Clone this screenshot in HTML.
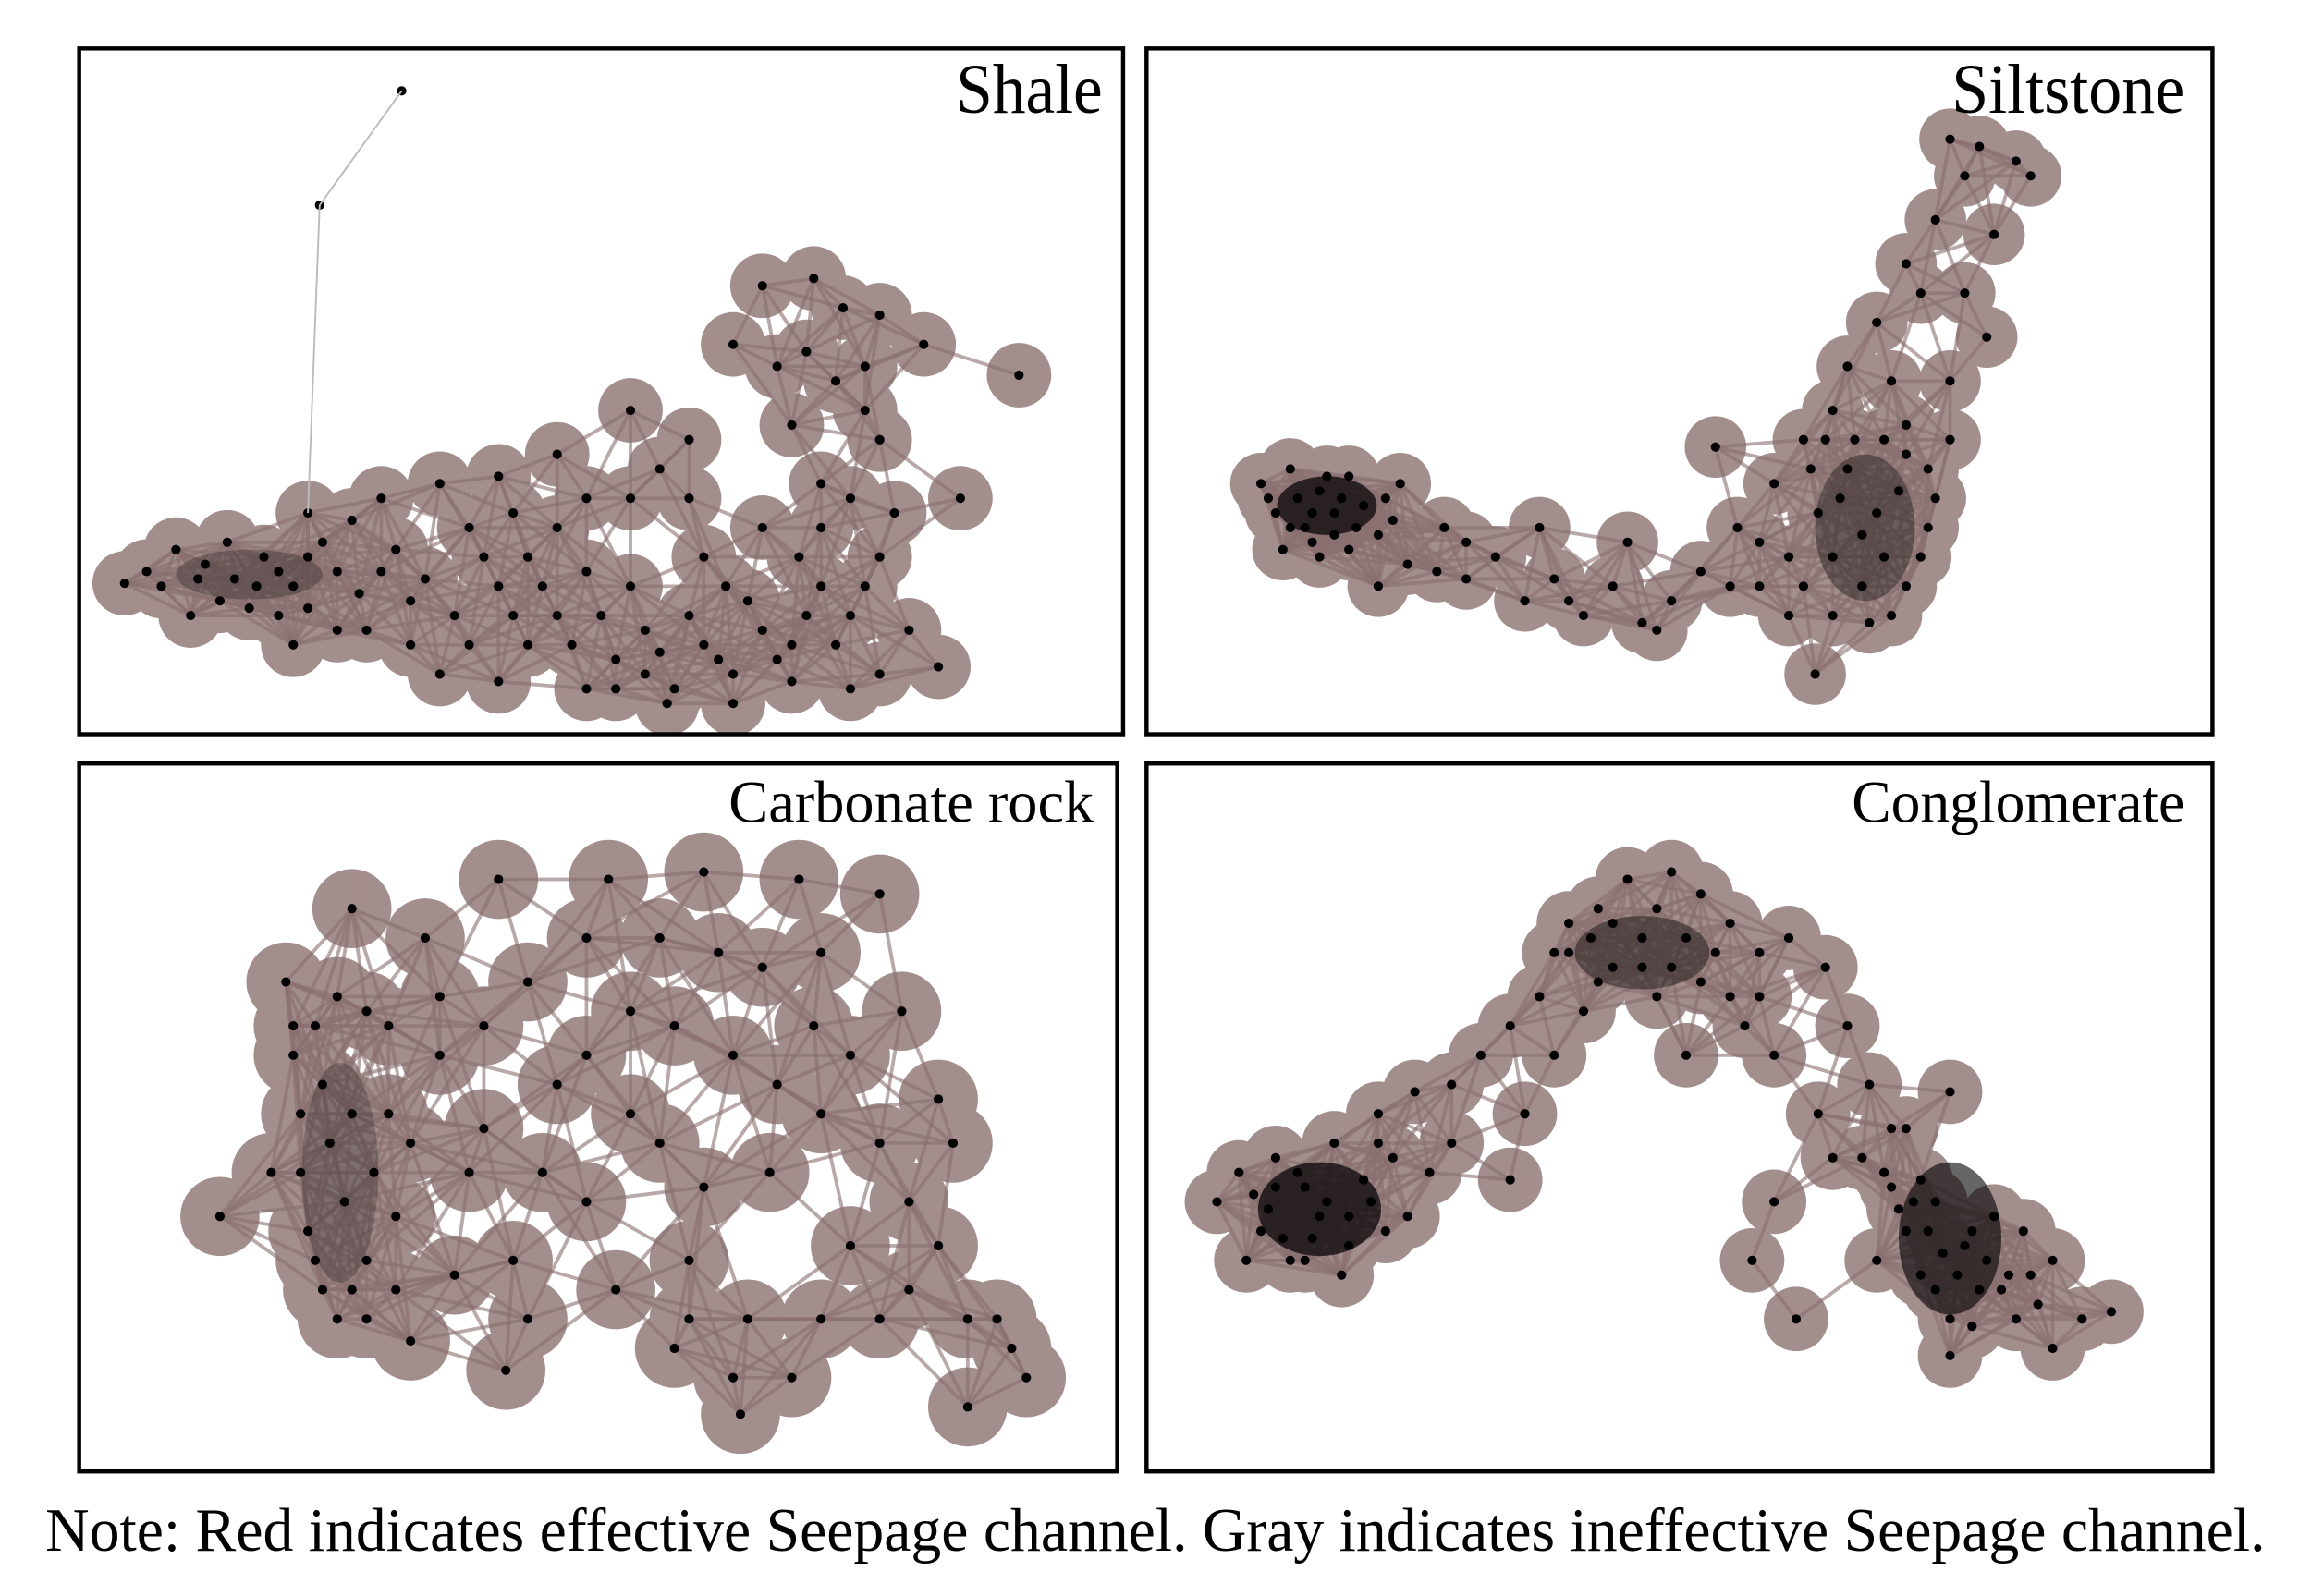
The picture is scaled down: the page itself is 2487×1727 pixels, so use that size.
<!DOCTYPE html>
<html><head><meta charset="utf-8"><style>
html,body{margin:0;padding:0;background:#fff;}
svg{display:block;}
text{font-family:"Liberation Serif",serif;fill:#000;}
</style></head><body>
<svg id="fig" width="2487" height="1727" viewBox="0 0 1568 1089" preserveAspectRatio="none" xmlns="http://www.w3.org/2000/svg">
<g id="layers"></g>
<rect x="54" y="33" width="712" height="468" fill="none" stroke="#000" stroke-width="2.8"/>
<rect x="782" y="33" width="727" height="468" fill="none" stroke="#000" stroke-width="2.8"/>
<rect x="54" y="521" width="708" height="483" fill="none" stroke="#000" stroke-width="2.8"/>
<rect x="782" y="521" width="727" height="483" fill="none" stroke="#000" stroke-width="2.8"/>
<text x="652" y="77" font-size="48" textLength="100" lengthAdjust="spacingAndGlyphs">Shale</text>
<text x="1331" y="77" font-size="48" textLength="159" lengthAdjust="spacingAndGlyphs">Siltstone</text>
<text x="497" y="561" font-size="41" textLength="249" lengthAdjust="spacingAndGlyphs">Carbonate rock</text>
<text x="1263" y="561" font-size="41" textLength="227" lengthAdjust="spacingAndGlyphs">Conglomerate</text>
<text x="31" y="1058" font-size="42" textLength="1514" lengthAdjust="spacingAndGlyphs">Note: Red indicates effective Seepage channel. Gray indicates ineffective Seepage channel.</text>
</svg>
<script>
const shaleNodes=[[274,62],[218,140],[210,350],[85,398],[100,390],[120,375],[140,385],[160,395],[180,380],[200,400],[220,370],[240,355],[260,390],[280,410],[300,330],[320,360],[340,400],[360,440],[380,420],[400,390],[420,450],[440,430],[460,470],[480,440],[500,460],[520,430],[540,440],[560,400],[580,420],[600,380],[620,430],[640,455],[610,350],[600,300],[590,250],[575,210],[555,190],[520,195],[500,235],[540,290],[560,330],[520,360],[495,400],[430,280],[450,320],[470,300],[695,256],[655,340],[630,235],[600,215],[130,420],[170,415],[250,430],[300,460],[340,465],[400,470],[455,480],[540,465],[200,440],[350,350],[260,340],[600,460],[580,470],[480,380],[380,360],[150,410],
[110,400],[135,395],[155,370],[175,400],[190,390],[210,415],[230,390],[245,405],[270,375],[290,395],[310,420],[330,380],[350,420],[370,400],[390,440],[410,420],[430,400],[450,445],[470,420],[490,450],[510,410],[530,450],[550,420],[570,440],[590,400],[560,360],[545,380],[580,340],[590,280],[570,260],[550,240],[530,250],[210,380],[190,420],[230,430],[320,440],[280,440],[440,460],[500,480],[420,470],
[340,325],[380,310],[430,340],[470,340],[400,340],[360,380]];
const siltNodes=[[860,330],[870,350],[880,320],[890,360],[900,335],[910,350],[920,325],[930,345],[940,365],[955,330],[875,375],[900,380],[960,385],[985,360],[1000,395],[1020,380],[1040,410],[1060,395],[1080,420],[1100,400],[1120,425],[1140,410],[1160,390],[1170,305],[1185,360],[1200,400],[1220,420],[1238,460],[1210,330],[1230,300],[1250,280],[1260,320],[1280,350],[1300,310],[1320,340],[1330,300],[1250,380],[1270,400],[1290,420],[1310,380],[1240,350],[1220,380],[1260,250],[1280,220],[1300,180],[1320,150],[1340,120],[1330,95],[1350,100],[1375,110],[1385,120],[1360,160],[1310,200],[1290,260],[1340,200],[1355,230],[1330,260],[1300,290],[1050,360],[940,400],[1110,370],[1130,430],
[865,340],[885,340],[895,350],[905,325],[915,340],[925,360],[895,370],[910,365],[880,360],[945,340],[950,355],[920,375],[1235,320],[1255,340],[1270,365],[1285,380],[1295,335],[1315,360],[1230,400],[1250,420],[1275,425],[1300,400],[1265,300],[1285,300],[1245,300],[1315,320],[1200,370],[1180,400],[1000,370],[1070,410],[980,390]];
const carbNodes=[[150,830],[185,800],[195,670],[200,720],[205,760],[210,840],[220,880],[230,900],[250,690],[265,760],[280,915],[270,830],[290,640],[300,720],[320,800],[340,600],[345,935],[360,670],[380,740],[400,820],[415,600],[430,690],[450,780],[470,860],[480,595],[490,650],[500,720],[505,965],[510,900],[525,800],[545,600],[555,700],[560,760],[580,850],[600,900],[620,820],[640,750],[650,780],[660,960],[680,900],[700,940],[615,690],[540,940],[460,920],[240,620],[310,870],[350,860],[420,880],[560,650],[600,610],[640,850],[330,770],[430,760],[480,810],[250,860],[220,740],[280,780],
[200,700],[215,700],[225,780],[235,820],[205,800],[215,860],[240,880],[255,800],[240,760],[230,680],[265,700],[250,900],[270,880],[300,680],[330,700],[400,640],[450,640],[520,660],[580,720],[600,780],[620,880],[660,900],[690,920],[470,900],[500,940],[370,800],[400,720],[460,700],[530,740],[360,900],[560,900]];
const congNodes=[[830,820],[845,800],[860,840],[870,790],[880,860],[890,810],[900,830],[910,780],[920,850],[930,805],[950,790],[960,830],[975,800],[990,780],[850,860],[915,870],[940,760],[965,745],[990,740],[1010,720],[1030,700],[1050,680],[1060,650],[1070,630],[1090,620],[1110,600],[1140,595],[1160,610],[1180,630],[1200,650],[1220,640],[1245,660],[1260,700],[1275,740],[1290,770],[1100,660],[1130,680],[1160,670],[1190,700],[1080,690],[1210,720],[1240,760],[1060,720],[1040,760],[1030,805],[1210,820],[1225,900],[1195,860],[1270,790],[1290,810],[1300,840],[1320,820],[1340,850],[1310,870],[1330,900],[1350,880],[1370,870],[1390,890],[1400,860],[1420,900],[1440,895],[1400,920],[1360,830],[1380,840],[1330,925],[1280,860],[1330,745],[1300,770],[1250,790],[1150,720],
[855,815],[865,825],[875,845],[885,800],[895,845],[905,820],[920,830],[935,820],[945,840],[870,810],[890,860],[940,780],[1070,650],[1085,640],[1100,630],[1120,640],[1130,620],[1150,640],[1170,650],[1120,660],[1140,660],[1090,670],[1180,680],[1200,680],[1285,800],[1295,825],[1305,820],[1315,840],[1325,855],[1335,870],[1345,840],[1355,860],[1365,880],[1375,900],[1310,805],[1320,880],[1385,870],[1345,905]];
const shaleClusters=[[170,392,50,17,0.25]];
const siltClusters=[[905,345,34,20,0.7],[1272,360,34,50,0.35]];
const carbClusters=[[232,800,26,75,0.22]];
const congClusters=[[900,825,42,32,0.7],[1120,650,46,25,0.4],[1330,845,35,52,0.6]];
const panelNames=['shale','siltstone','carbonate','conglomerate'];
const NS='http://www.w3.org/2000/svg';
const layers=document.getElementById('layers');
function sx(p){return p[0];}
function sy(p){return p[1];}
function drawNet(nodes,clusters,name,thr,rad){
  const g=document.createElementNS(NS,'g');
  
  
  const fill=document.createElementNS(NS,'g');
  
  
  fill.setAttribute('opacity','0.92');
  nodes.forEach(p=>{
    if(name==='shale'&&(p===nodes[0]||p===nodes[1]))return;
    const c=document.createElementNS(NS,'circle');
    
    
    c.setAttribute('cx',sx(p));c.setAttribute('cy',sy(p));c.setAttribute('r',rad);
    c.setAttribute('fill','#9c8585');
    fill.appendChild(c);
  });
  g.appendChild(fill);
  for(let i=0;i<nodes.length;i++)for(let j=i+1;j<nodes.length;j++){
    const dx=sx(nodes[i])-sx(nodes[j]),dy=sy(nodes[i])-sy(nodes[j]);
    const d=Math.hypot(dx,dy);
    if(d<thr){
      const l=document.createElementNS(NS,'line');
      
      
      l.setAttribute('x1',sx(nodes[i]));l.setAttribute('y1',sy(nodes[i]));
      l.setAttribute('x2',sx(nodes[j]));l.setAttribute('y2',sy(nodes[j]));
      l.setAttribute('stroke','#8a7070');l.setAttribute('stroke-width','2.4');l.setAttribute('opacity','0.6');
      g.appendChild(l);
    }
  }
  clusters.forEach(k=>{
    const e=document.createElementNS(NS,'ellipse');
    
    
    e.setAttribute('cx',k[0]);e.setAttribute('cy',k[1]);e.setAttribute('rx',k[2]);e.setAttribute('ry',k[3]);
    e.setAttribute('fill','#000');e.setAttribute('opacity',k[4]);
    g.appendChild(e);
  });
  nodes.forEach(p=>{
    const c=document.createElementNS(NS,'circle');
    
    
    c.setAttribute('cx',sx(p));c.setAttribute('cy',sy(p));c.setAttribute('r',3.2);
    c.setAttribute('fill','#000');
    g.appendChild(c);
  });
  layers.appendChild(g);
}
drawNet(shaleNodes,shaleClusters,panelNames[0],70,22);
drawNet(siltNodes,siltClusters,panelNames[1],70,21);
drawNet(carbNodes,carbClusters,panelNames[2],95,27);
drawNet(congNodes,congClusters,panelNames[3],70,22);
const ol=document.createElementNS(NS,'line');


ol.setAttribute('x1',sx(shaleNodes[1]));ol.setAttribute('y1',sy(shaleNodes[1]));
ol.setAttribute('x2',sx(shaleNodes[2]));ol.setAttribute('y2',sy(shaleNodes[2]));
ol.setAttribute('stroke','#bbb');ol.setAttribute('stroke-width','1.2');
layers.appendChild(ol);
const ol2=document.createElementNS(NS,'line');


ol2.setAttribute('x1',sx(shaleNodes[0]));ol2.setAttribute('y1',sy(shaleNodes[0]));
ol2.setAttribute('x2',sx(shaleNodes[1]));ol2.setAttribute('y2',sy(shaleNodes[1]));
ol2.setAttribute('stroke','#bbb');ol2.setAttribute('stroke-width','1.2');
layers.appendChild(ol2);
</script>
</body></html>
